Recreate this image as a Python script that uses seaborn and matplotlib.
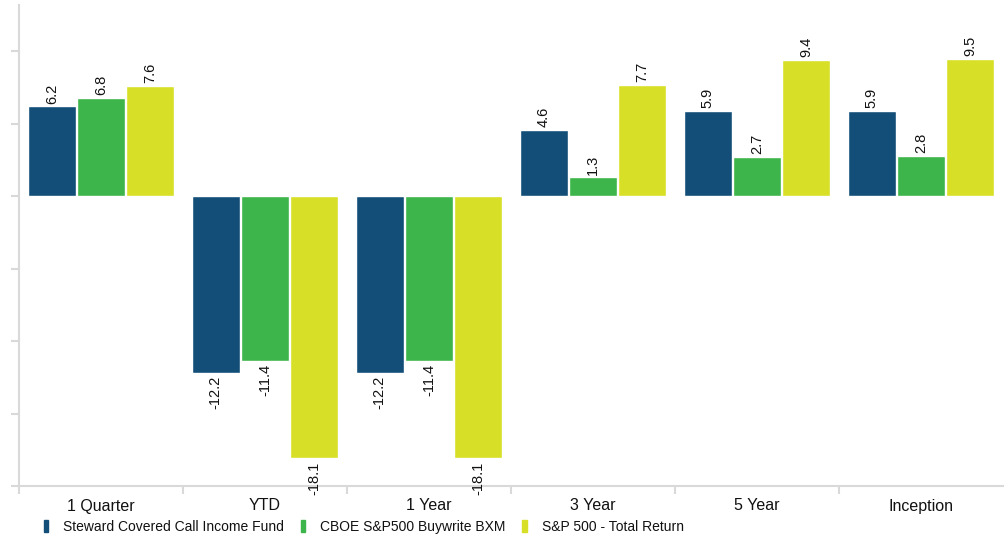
import numpy as np
import pandas as pd
import seaborn as sns
import matplotlib.pyplot as plt
from matplotlib.patches import Rectangle

# datos
periodos = ['1 Quarter', 'YTD', '1 Year', '3 Year', '5 Year', 'Inception']
series = ['Steward Covered Call Income Fund', 'CBOE S&P500 Buywrite BXM',
          'S&P 500 - Total Return']
steward = [6.2, -12.2, -12.2, 4.6, 5.9, 5.9]
bxm = [6.8, -11.4, -11.4, 1.3, 2.7, 2.8]
sp500 = [7.6, -18.1, -18.1, 7.7, 9.4, 9.5]
colores = ['#124e78', '#3db54a', '#d7df27']
gris = '#d9d9d9'

sns.set_style('white')
plt.rcParams['font.family'] = ['Liberation Sans', 'DejaVu Sans']

df = pd.DataFrame({
    'periodo': periodos * 3,
    'serie': [series[0]] * 6 + [series[1]] * 6 + [series[2]] * 6,
    'valor': steward + bxm + sp500,
})

fig = plt.figure(figsize=(10.08, 5.37), dpi=100)
ax = fig.add_axes([19 / 1008, 1 - 486 / 537, (1003 - 19) / 1008, (486 - 5) / 537])

sns.barplot(data=df, x='periodo', y='valor', hue='serie', order=periodos,
            hue_order=series, palette=colores, width=0.9, gap=0.03,
            saturation=1, errorbar=None, legend=False, ax=ax)

# etiquetas de valores
for cont in ax.containers:
    ax.bar_label(cont, fmt='%.1f', rotation=90, padding=2, fontsize=10.5,
                 color='#111111')

ax.set_xlim(-0.5, 5.5)
ax.set_ylim(-20, 13.2)
ax.set_yticks([-20, -15, -10, -5, 0, 5, 10])
ax.set_yticklabels([])
ax.tick_params(axis='y', length=6, width=1.5, color=gris, direction='out', left=True)
ax.set_xticks(range(len(periodos)))
ax.set_xticklabels(periodos, fontsize=11.5, color='#111111')
ax.tick_params(axis='x', which='major', length=0, pad=9)
ax.set_xticks([-0.5, 0.5, 1.5, 2.5, 3.5, 4.5], minor=True)
ax.tick_params(axis='x', which='minor', length=6, width=1.5, color=gris,
               direction='out', bottom=True)
ax.set_xlabel('')
ax.set_ylabel('')

for lado in ['top', 'right']:
    ax.spines[lado].set_visible(False)
for lado in ['left', 'bottom']:
    ax.spines[lado].set_color(gris)
    ax.spines[lado].set_linewidth(1.5)

# leyenda inferior
manijas = [Rectangle((0, 0), 1, 1, color=c) for c in colores]
fig.legend(manijas, series, loc='center left', bbox_to_anchor=(44 / 1008, 1 - 527 / 537),
           ncol=3, frameon=False, fontsize=10, handlelength=0.3, handleheight=0.9,
           handletextpad=1.1, columnspacing=1.2, borderpad=0, borderaxespad=0,
           labelcolor='#111111')

fig.savefig('out.png', dpi=100)
